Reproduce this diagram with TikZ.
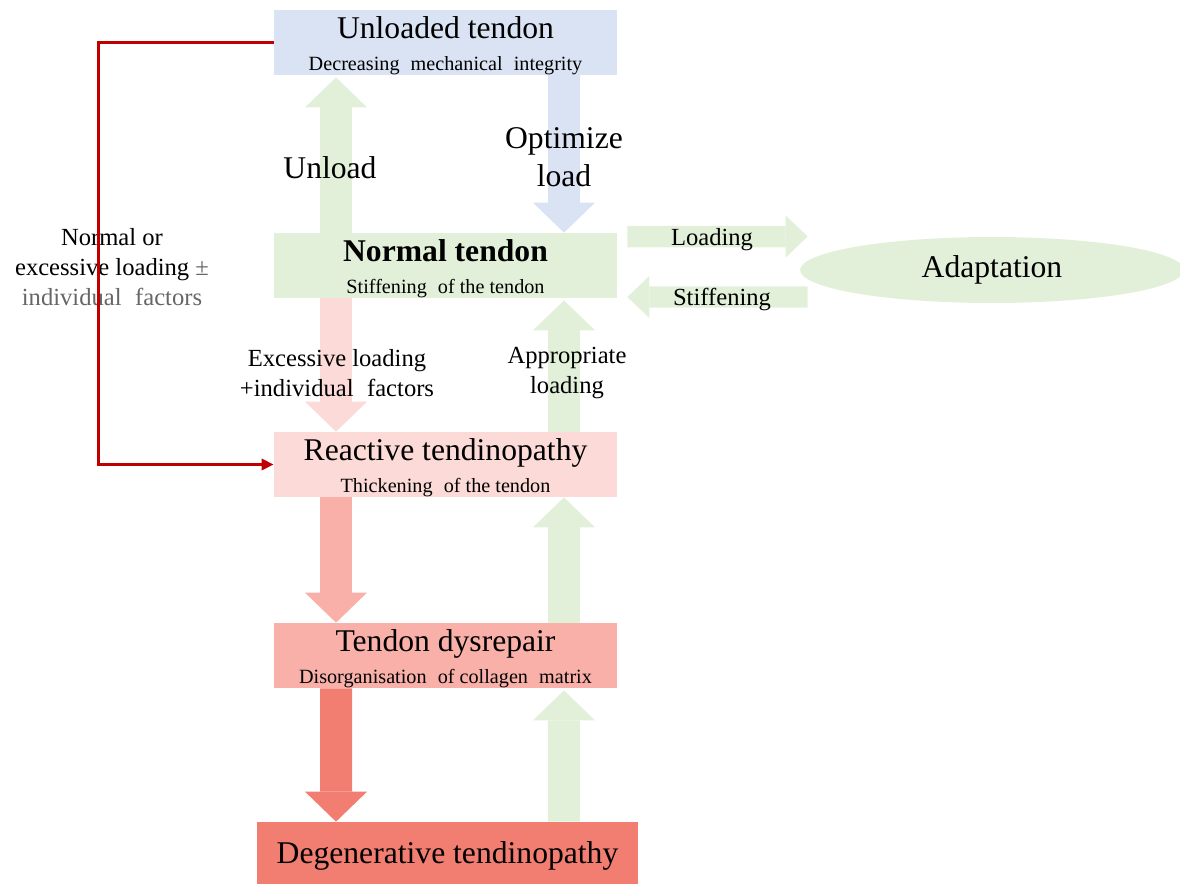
\documentclass[tikz,border=0pt]{standalone}
\usepackage{fontspec}
\setmainfont{Liberation Serif}
\usepackage{xcolor}
\usetikzlibrary{arrows.meta,shapes.geometric}
\definecolor{boxblue}{HTML}{DAE3F3}
\definecolor{boxgreen}{HTML}{E2F0D9}
\definecolor{palepink}{HTML}{FBDAD7}
\definecolor{midpink}{HTML}{F8B0A9}
\definecolor{salmon}{HTML}{F27E72}
\definecolor{linered}{HTML}{C00000}
\definecolor{softgray}{HTML}{666666}
\newcommand{\wsp}{\hspace{0.55em}}
\newcommand{\subtxt}[1]{{\fontsize{11.5}{18.1}\selectfont #1}}
\newcommand{\ttl}[1]{\rule{0pt}{16pt}#1}
\tikzset{%
    stage/.style={%
        fill=#1, minimum width=6.86cm, minimum height=1.3cm, inner sep=0pt,
        align=center, font=\fontsize{18}{18.1}\selectfont
    },
    flow/.style={%
        draw=#1, line width=0.64cm,
        -{Triangle[length=0.6cm,width=1.24cm,line width=0pt]}
    },
    side/.style={%
        draw=#1, line width=0.43cm,
        -{Triangle[length=0.44cm,width=0.84cm,line width=0pt]}
    },
    lbl/.style={align=center, font=\fontsize{14}{17}\selectfont},
    biglbl/.style={align=center, font=\fontsize{18}{21.5}\selectfont}
}

\begin{document}
\begin{tikzpicture}[x=0.02cm,y=-0.02cm]
	\useasboundingbox (0,0) rectangle (1180,883);

	\node[stage=boxblue] (unloaded) at (445.5,42.5) {\ttl{Unloaded tendon}\\\subtxt{Decreasing\wsp mechanical\wsp integrity}};
	\node[stage=boxgreen] (normal) at (445.5,265.5) {\ttl{\textbf{Normal tendon}}\\\subtxt{Stiffening\wsp of the tendon}};
	\node[stage=palepink] (reactive) at (445.5,464.5) {\ttl{Reactive tendinopathy}\\\subtxt{Thickening\wsp of the tendon}};
	\node[stage=midpink] (dysrepair) at (445.5,655.5) {\ttl{Tendon dysrepair}\\\subtxt{Disorganisation\wsp of collagen\wsp matrix}};
	\node[stage=salmon,minimum width=7.62cm,minimum height=1.24cm] (degen) at (447.5,853) {\ttl{Degenerative tendinopathy}};

	\node[ellipse,fill=boxgreen,minimum width=7.68cm,minimum height=1.32cm,inner sep=0pt,
		font=\fontsize{18}{18}\selectfont] (adapt) at (992,270) {Adaptation};

	\draw[flow=boxgreen] ([xshift=-2.19cm]normal.north) -- ([xshift=-2.19cm,yshift=-0.04cm]unloaded.south);
	\draw[flow=boxblue] ([xshift=2.37cm]unloaded.south) -- ([xshift=2.37cm]normal.north);
	\draw[flow=palepink] ([xshift=-2.19cm]normal.south) -- ([xshift=-2.19cm]reactive.north);
	\draw[flow=boxgreen] ([xshift=2.37cm]reactive.north) -- ([xshift=2.37cm,yshift=-0.04cm]normal.south);
	\draw[flow=midpink] ([xshift=-2.19cm]reactive.south) -- ([xshift=-2.19cm]dysrepair.north);
	\draw[flow=boxgreen] ([xshift=2.37cm]dysrepair.north) -- ([xshift=2.37cm]reactive.south);
	\draw[flow=salmon] ([xshift=-2.19cm]dysrepair.south) -- ([xshift=-2.23cm]degen.north);
	\draw[flow=boxgreen] ([xshift=2.33cm]degen.north) -- ([xshift=2.37cm,yshift=-0.04cm]dysrepair.south);

	\draw[side=boxgreen] ([xshift=0.2cm,yshift=0.58cm]normal.east) -- ([xshift=0.16cm,yshift=0.67cm]adapt.west);
	\draw[side=boxgreen] ([xshift=0.16cm,yshift=-0.54cm]adapt.west) -- ([xshift=0.2cm,yshift=-0.63cm]normal.east);

	\node[biglbl] (unloadlbl) at (330,168) {Unload};
	\node[biglbl] (optlbl) at (564,157) {Optimize\\load};
	\node[lbl] (loadlbl) at (712,240) {Loading};
	\node[lbl] (stifflbl) at (722,299) {Stiffening};
	\node[lbl] (exclbl) at (337,373) {Excessive loading\\+individual\wsp factors};
	\node[lbl] (applbl) at (567,373) {Appropriate\\loading};
	\node[lbl] (risklbl) at (112,267) {Normal or\\excessive loading \textcolor{softgray}{±}\\\textcolor{softgray}{individual\wsp factors}};

	\draw[linered,line width=1.9pt,-{Triangle[length=0.24cm,width=0.22cm]}]
		(unloaded.west) -- ++(-175,0) |- (reactive.west);
\end{tikzpicture}
\end{document}
